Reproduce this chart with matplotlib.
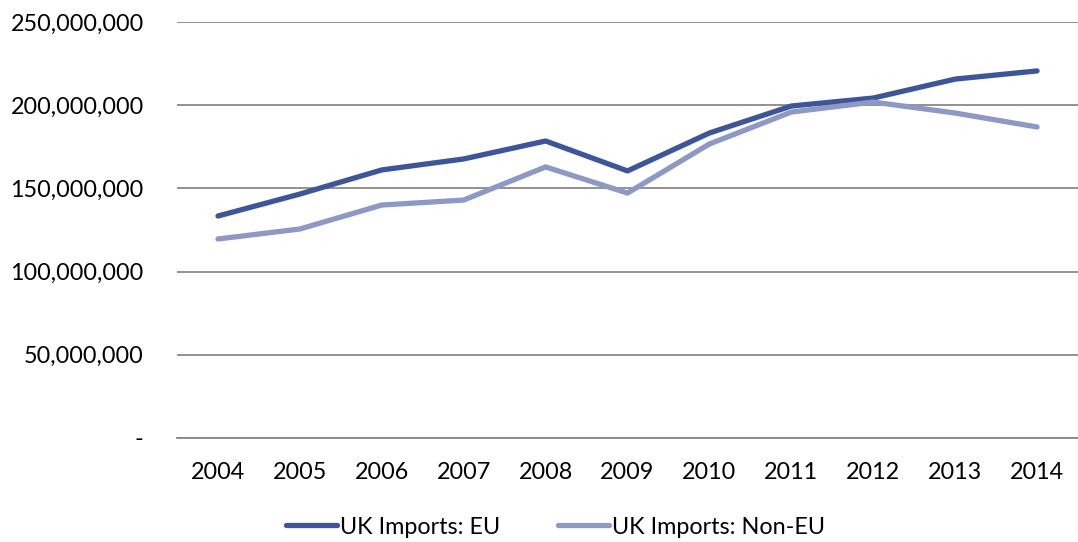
import matplotlib.pyplot as plt
from matplotlib.ticker import FuncFormatter

years = ['2004', '2005', '2006', '2007', '2008', '2009', '2010', '2011', '2012', '2013', '2014']
eu = [133.4, 146.6, 161.1, 167.7, 178.5, 160.5, 183.3, 199.5, 204.3, 215.7, 220.6]
non_eu = [119.6, 125.6, 140.0, 143.0, 162.9, 147.2, 176.7, 195.9, 201.9, 195.3, 186.9]
eu = [v * 1e6 for v in eu]
non_eu = [v * 1e6 for v in non_eu]

plt.rcParams['font.family'] = ['Lato', 'DejaVu Sans']

fig = plt.figure(figsize=(10.78, 5.42), dpi=100)
ax = fig.add_axes([0.1642, 0.1919, 0.8358, 0.7675])

x = range(len(years))
ax.plot(x, eu, color='#3d5599', lw=3.8, solid_capstyle='round', solid_joinstyle='round', label='UK Imports: EU')
ax.plot(x, non_eu, color='#8d98c4', lw=3.8, solid_capstyle='round', solid_joinstyle='round', label='UK Imports: Non-EU')

ax.set_xlim(-0.5, len(years) - 0.5)
ax.set_ylim(0, 250e6)
ax.set_yticks([0, 50e6, 100e6, 150e6, 200e6, 250e6])
ax.yaxis.set_major_formatter(FuncFormatter(lambda v, p: '-' if v == 0 else f'{int(v):,}'))
ax.set_xticks(list(x))
ax.set_xticklabels(years)
ax.grid(axis='y', color='#898989', lw=1.3)
ax.set_axisbelow(True)
for s in ['top', 'right', 'left']:
    ax.spines[s].set_visible(False)
ax.spines['bottom'].set_color('#898989')
ax.spines['bottom'].set_linewidth(1.3)
ax.tick_params(axis='both', length=0, labelsize=16.8, colors='black')
ax.tick_params(axis='y', pad=24)
ax.tick_params(axis='x', pad=17)

ax.legend(loc='lower center', bbox_to_anchor=(0.42, -0.29), ncol=2, frameon=False,
          fontsize=16.8, handlelength=2.2, handletextpad=0.1, columnspacing=2.5)

fig.savefig('out.png', dpi=100)
